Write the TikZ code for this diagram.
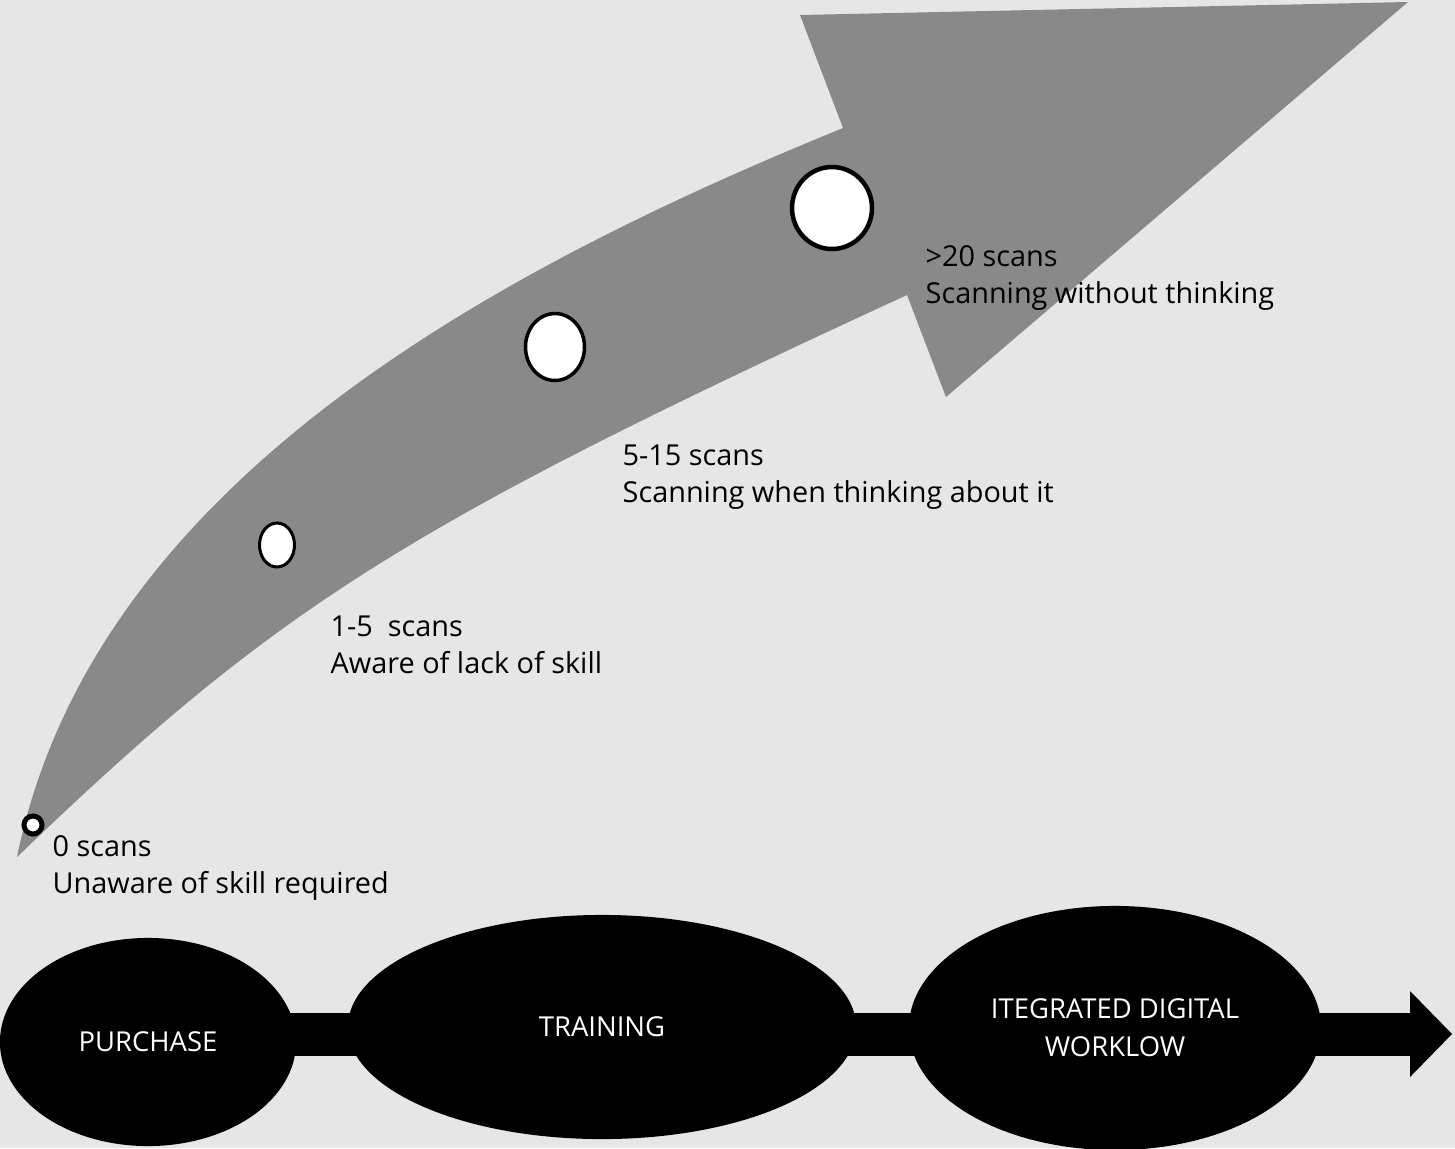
\documentclass[tikz,border=0pt]{standalone}
\usepackage{fontspec}
\setmainfont{Open Sans}
\usetikzlibrary{shapes.geometric,arrows.meta,backgrounds}
\definecolor{bggray}{RGB}{230,230,230}
\definecolor{arrowgray}{RGB}{137,137,137}

\begin{document}
\begin{tikzpicture}[x=0.01cm,y=-0.01cm,
	every node/.style={inner sep=0pt},
	stage/.style={ellipse,fill=black,text=white,align=center,font=\fontsize{7.8}{10.8}\selectfont},
	marker/.style={ellipse,draw=black,fill=white},
	caption/.style={anchor=west,align=left,font=\fontsize{8.2}{10.5}\selectfont},
	band/.style={line width=0.43cm,-{Triangle[length=0.42cm,width=0.86cm,line width=0pt]}}]
\useasboundingbox (0,0) rectangle (1455,1148);

%background
\begin{scope}[on background layer]
\fill[bggray] (0,0) rectangle (1455,1148);
\end{scope}

%curved arrow
\fill[arrowgray] (17,857) .. controls (93,485) and (490,272) .. (843,128)
	-- (800,15) -- (1408,2) -- (946,397) -- (907,295)
	.. controls (403,527) and (276,608) .. (17,857) -- cycle;

%markers
\foreach \name/\x/\y/\w/\h/\lw in {m0/33/825/18/18/5,m1/277/545/35/44/3,m2/555/347/59/67/3.5,m3/832/208/80/82/4.5}
	\node[marker,minimum width=\w*0.01cm,minimum height=\h*0.01cm,line width=\lw*0.01cm] (\name) at (\x,\y) {};

%captions
\node[caption] (c0) at (52,868) {0 scans\\Unaware of skill required};
\node[caption] (c1) at (330,645) {1-5\ \ scans\\Aware of lack of skill};
\node[caption] (c2) at (622,477) {5-15 scans\\Scanning when thinking about it};
\node[caption] (c3) at (925,278) {>20 scans\\Scanning without thinking};

%stages
\node[stage,minimum width=2.96cm,minimum height=2.08cm] (purchase) at (148,1042) {PURCHASE};
\node[stage,minimum width=5.08cm,minimum height=2.24cm] (training) at (602,1027) {TRAINING};
\node[stage,minimum width=4.12cm,minimum height=2.44cm] (idw) at (1115,1028) {ITEGRATED DIGITAL\\WORKLOW};
\coordinate (tip) at (1452,1034);

%band
\begin{scope}[on background layer]
\draw[band] (purchase.center |- tip) -- (tip);
\end{scope}
\end{tikzpicture}
\end{document}
